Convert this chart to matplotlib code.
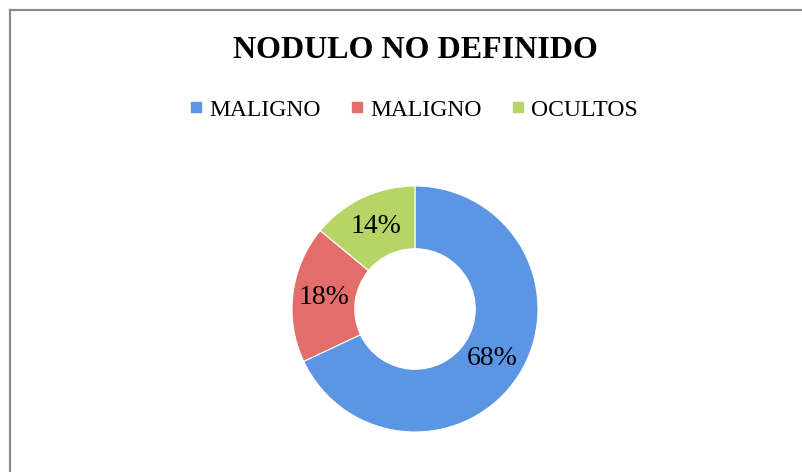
import matplotlib
matplotlib.use('Agg')
import matplotlib.pyplot as plt
from matplotlib.lines import Line2D

# data
labels = ['MALIGNO', 'MALIGNO', 'OCULTOS']
values = [68, 18, 14]
colors = ['#5B95E3', '#E26D6B', '#B6D566']

W, H = 802, 472
fig = plt.figure(figsize=(W / 100, H / 100), dpi=100)
fig.patch.set_facecolor('white')

# donut centre / radius in pixels
cx, cy, R = 415, 309, 123
ax = fig.add_axes([(cx - R) / W, (H - cy - R) / H, 2 * R / W, 2 * R / H])
wedges, texts, autotexts = ax.pie(
    values, colors=colors, startangle=90, counterclock=False,
    radius=1.0, autopct='%d%%', pctdistance=0.745,
    wedgeprops=dict(width=0.51, edgecolor='white', linewidth=0.8),
    textprops=dict(family='Liberation Serif', fontsize=20, color='black'))
ax.set_xlim(-1, 1)
ax.set_ylim(-1, 1)
ax.set_aspect('equal')
ax.axis('off')

fig.text(cx / W, 1 - 50 / H, 'NODULO NO DEFINIDO', ha='center', va='center',
         family='Liberation Serif', fontweight='bold', fontsize=23)

handles = [Line2D([], [], marker='s', linestyle='none', markersize=7,
                  markerfacecolor=c, markeredgecolor=c) for c in colors]
fig.legend(handles, labels, loc='center', bbox_to_anchor=(413 / W, 1 - 110 / H),
           ncol=3, frameon=False, handletextpad=0.2, columnspacing=1.2,
           handlelength=0.7,
           prop=dict(family='Liberation Serif', size=17))

# chart border (left and top edges visible)
gray = '#8C8C8C'
fig.add_artist(Line2D([9.5 / W, 9.5 / W], [0, 1 - 10 / H], color=gray, lw=1.6,
                      transform=fig.transFigure))
fig.add_artist(Line2D([9.5 / W, 1], [1 - 10 / H, 1 - 10 / H], color=gray, lw=1.6,
                      transform=fig.transFigure))

fig.savefig('out.png', dpi=100)
